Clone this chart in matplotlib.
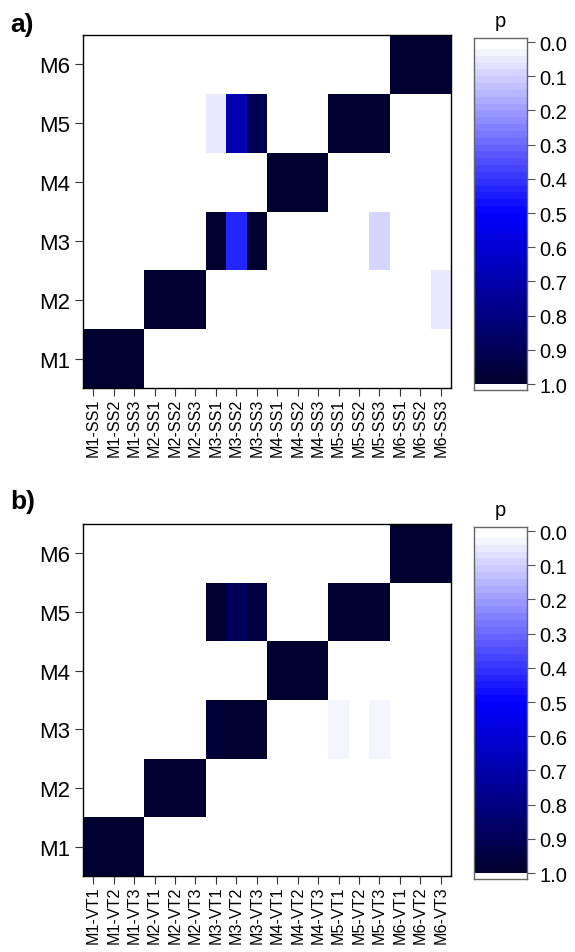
import numpy as np
import matplotlib.pyplot as plt
from matplotlib.colors import LinearSegmentedColormap

plt.rcParams['font.family'] = ['Liberation Sans', 'DejaVu Sans']

rows = ["M1", "M2", "M3", "M4", "M5", "M6"]
cols_a = [f"M{m}-SS{s}" for m in range(1, 7) for s in range(1, 4)]
cols_b = [f"M{m}-VT{s}" for m in range(1, 7) for s in range(1, 4)]
cbar_ticks = [0.0, 0.1, 0.2, 0.3, 0.4, 0.5, 0.6, 0.7, 0.8, 0.9, 1.0]

# p values, one list per row (M1 at bottom), 18 columns each
p_a = np.array([
    [1, 1, 1, 0, 0, 0, 0, 0, 0, 0, 0, 0, 0, 0, 0, 0, 0, 0],
    [0, 0, 0, 1, 1, 1, 0, 0, 0, 0, 0, 0, 0, 0, 0, 0, 0, 0.04],
    [0, 0, 0, 0, 0, 0, 1, 0.42, 1, 0, 0, 0, 0, 0, 0.09, 0, 0, 0],
    [0, 0, 0, 0, 0, 0, 0, 0, 0, 1, 1, 1, 0, 0, 0, 0, 0, 0],
    [0, 0, 0, 0, 0, 0, 0.04, 0.68, 0.9, 0, 0, 0, 1, 1, 1, 0, 0, 0],
    [0, 0, 0, 0, 0, 0, 0, 0, 0, 0, 0, 0, 0, 0, 0, 1, 1, 1],
])
p_b = np.array([
    [1, 1, 1, 0, 0, 0, 0, 0, 0, 0, 0, 0, 0, 0, 0, 0, 0, 0],
    [0, 0, 0, 1, 1, 1, 0, 0, 0, 0, 0, 0, 0, 0, 0, 0, 0, 0],
    [0, 0, 0, 0, 0, 0, 0.96, 1, 1, 0, 0, 0, 0.02, 0, 0.02, 0, 0, 0],
    [0, 0, 0, 0, 0, 0, 0, 0, 0, 1, 1, 1, 0, 0, 0, 0, 0, 0],
    [0, 0, 0, 0, 0, 0, 0.98, 0.89, 0.94, 0, 0, 0, 1, 1, 1, 0, 0, 0],
    [0, 0, 0, 0, 0, 0, 0, 0, 0, 0, 0, 0, 0, 0, 0, 1, 1, 1],
])

cmap = LinearSegmentedColormap.from_list("wb", ["white", "blue", "#000030"], N=50)

fig = plt.figure(figsize=(5.75, 9.53), dpi=100)
H = 953.0


def draw_panel(data, xlabels, label, label_top, hm_rect, cb_rect):
    ax = fig.add_axes(hm_rect)
    ax.pcolormesh(np.arange(len(xlabels) + 1), np.arange(len(rows) + 1), data,
                  cmap=cmap, vmin=0, vmax=1)
    ax.set_xlim(0, len(xlabels))
    ax.set_ylim(0, len(rows))
    ax.set_xticks(np.arange(len(xlabels)) + 0.5)
    ax.set_xticklabels(xlabels, rotation=90, fontsize=11.6)
    ax.set_yticks(np.arange(len(rows)) + 0.5)
    ax.set_yticklabels(rows, fontsize=16)
    ax.tick_params(length=6, width=0.8, color="#333333", pad=3)
    ax.tick_params(axis="x", length=5.5, pad=1.5)
    for s in ax.spines.values():
        s.set_linewidth(1.0)
    fig.text(0.017, 1 - label_top / H, label, fontsize=19,
             fontweight="bold", ha="left", va="top")

    # colorbar: 50 stepped bands from 0 (top) to 1, white margin below 1
    cax = fig.add_axes(cb_rect)
    edges = np.linspace(0, 1, 51)
    centers = (edges[:-1] + edges[1:]) / 2
    cax.pcolormesh([0, 1], edges, centers[:, None], cmap=cmap, vmin=0, vmax=1)
    cax.set_xlim(0, 1)
    cax.set_ylim(1.0175, -0.0117)
    cax.set_xticks([])
    cax.yaxis.tick_right()
    cax.set_yticks(cbar_ticks)
    cax.set_yticklabels([f"{t:.1f}" for t in cbar_ticks], fontsize=14.5)
    cax.tick_params(length=6, width=0.8, color="#555555", pad=3)
    for s in cax.spines.values():
        s.set_linewidth(1.0)
        s.set_color("#666666")
    cax.set_title("p", fontsize=14.5, pad=9)


def rect(left, top, right, bottom):
    return [left / 575, 1 - bottom / H, (right - left) / 575, (bottom - top) / H]


draw_panel(p_a, cols_a, "a)", 13, rect(83, 36, 451, 389), rect(474, 39, 527, 391))
draw_panel(p_b, cols_b, "b)", 490, rect(83, 525, 451, 877), rect(474, 528, 527, 880))

fig.savefig("out.png", dpi=100)
